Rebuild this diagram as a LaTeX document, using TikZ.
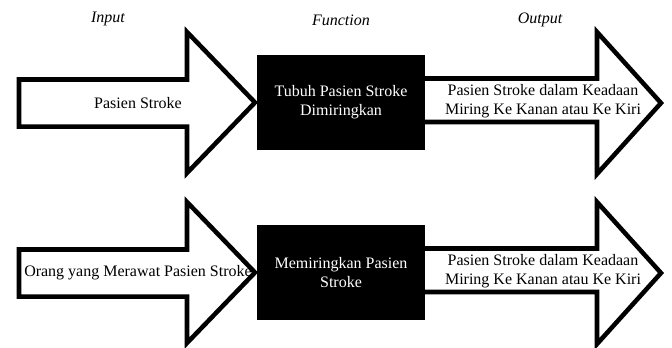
\documentclass[tikz,border=0pt]{standalone}
\usepackage{fontspec}
\setmainfont{Liberation Serif}
\begin{document}
\begin{tikzpicture}[x=0.75pt,y=-0.75pt,
  blockarrow/.style={draw=black,fill=white,line width=3.4pt,line join=miter},
  funcbox/.style={fill=black,draw=none},
  txt/.style={font=\fontsize{12}{14}\selectfont,align=center,inner sep=0pt},
  wtxt/.style={txt,text=white},
  head/.style={font=\fontsize{12}{14}\selectfont\itshape,inner sep=0pt}]
\useasboundingbox (0,0) rectangle (672,347);
% headings
\node[head] (hin) at (108,19) {Input};
\node[head] (hfn) at (341,20) {Function};
\node[head] (hout) at (540,20) {Output};
% row 1
\draw[blockarrow] (19,79.5) -- (187,79.5) -- (187,32) -- (255,102.5) -- (187,173) -- (187,126.7) -- (19,126.7) -- cycle;
\draw[blockarrow] (418,78.5) -- (597,78.5) -- (597,32) -- (661,103) -- (597,174) -- (597,122) -- (418,122) -- cycle;
\fill[funcbox] (257,55) rectangle (425,150);
\node[txt] (in1) at (138,103) {Pasien Stroke};
\node[wtxt] (fn1) at (341,102.5) {Tubuh Pasien Stroke\\Dimiringkan};
\node[txt] (out1) at (543,101.5) {Pasien Stroke dalam Keadaan\\Miring Ke Kanan atau Ke Kiri};
% row 2
\begin{scope}[yshift=-170*0.75pt]
\draw[blockarrow] (19,79.5) -- (187,79.5) -- (187,32) -- (255,102.5) -- (187,173) -- (187,126.7) -- (19,126.7) -- cycle;
\draw[blockarrow] (418,78.5) -- (597,78.5) -- (597,32) -- (661,103) -- (597,174) -- (597,122) -- (418,122) -- cycle;
\fill[funcbox] (257,55) rectangle (425,150);
\node[txt] (in2) at (138,103) {Orang yang Merawat Pasien Stroke};
\node[wtxt] (fn2) at (341,102.5) {Memiringkan Pasien\\Stroke};
\node[txt] (out2) at (543,101.5) {Pasien Stroke dalam Keadaan\\Miring Ke Kanan atau Ke Kiri};
\end{scope}
\end{tikzpicture}
\end{document}
